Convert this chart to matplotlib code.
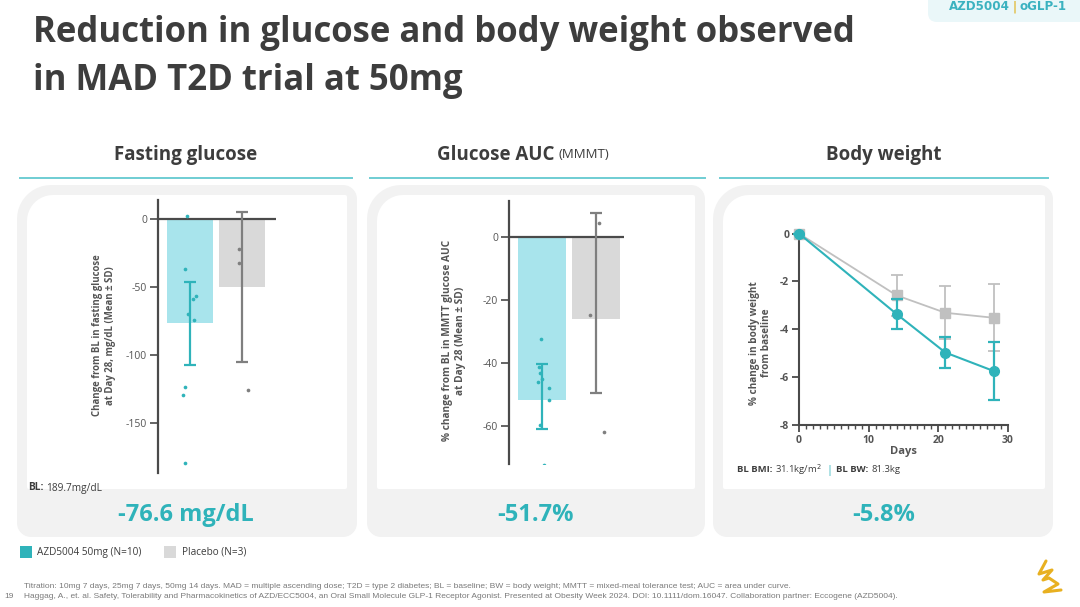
import numpy as np
import matplotlib
matplotlib.use("Agg")
import matplotlib.pyplot as plt
from matplotlib.patches import FancyBboxPatch, Rectangle, Polygon

plt.rcParams['font.family'] = ['Open Sans', 'DejaVu Sans']
plt.rcParams['axes.unicode_minus'] = False

TEAL = "#2fb3ba"
TEAL_BAR = "#a8e4ec"
GRAY_BAR = "#d9d9d9"
GRAY_PT = "#7f7f7f"
GRAY_LINE = "#c0c0c0"
DARK = "#3d3d3d"
AXC = "#4a4a4a"

# fasting glucose (change from BL, mg/dL)
fg_means = [-76.6, -50.0]
fg_lower = [-106.9, -105.0]
fg_upper = [-46.3, 5.0]
fg_azd_pts = [2.2, -36.8, -58.6, -56.4, -69.6, -74.0, -123.5, -129.4, -179.2]
fg_azd_off = [-0.06, -0.09, 0.05, 0.12, -0.03, 0.08, -0.09, -0.14, -0.10]
fg_pbo_pts = [-22.3, -32.1, -125.7]
fg_pbo_off = [-0.06, -0.05, 0.11]

# glucose AUC (% change)
auc_means = [-51.7, -26.0]
auc_lower = [-61.0, -49.3]
auc_upper = [-40.3, 7.7]
auc_azd_pts = [-32.2, -41.2, -43.2, -44.9, -45.9, -47.8, -51.7, -59.5, -72.2]
auc_azd_off = [-0.01, -0.05, -0.03, 0.00, -0.06, 0.14, 0.14, -0.04, 0.05]
auc_pbo_pts = [4.4, -24.8, -61.7]
auc_pbo_off = [0.06, -0.11, 0.14]

# body weight (% change)
days = [0, 14, 21, 28]
bw_azd = [0, -3.36, -4.97, -5.75]
bw_azd_sd = [0, 0.62, 0.65, 1.2]
bw_pbo = [0, -2.58, -3.31, -3.52]
bw_pbo_sd = [0, 0.87, 1.11, 1.4]

W, H = 1080, 607
fig = plt.figure(figsize=(W / 100, H / 100), dpi=100)
renderer = fig.canvas.get_renderer()

# background canvas in pixel coords (y down)
bg = fig.add_axes([0, 0, 1, 1], zorder=-5)
bg.set_xlim(0, W)
bg.set_ylim(H, 0)
bg.axis("off")


def rrect(x0, y0, x1, y1, radii, **kw):
    # radii: top-left, top-right, bottom-right, bottom-left
    tl, tr, br, bl = radii
    pts = []
    for cx, cy, r, a0 in [(x0 + tl, y0 + tl, tl, 180), (x1 - tr, y0 + tr, tr, 270),
                          (x1 - br, y1 - br, br, 0), (x0 + bl, y1 - bl, bl, 90)]:
        t = np.radians(np.linspace(a0, a0 + 90, 12))
        pts += list(zip(cx + r * np.cos(t), cy + r * np.sin(t)))
    bg.add_patch(Polygon(pts, closed=True, **kw))


def seq_text(x, y, parts, **kw):
    # parts: list of (string, dict of extra props, gap after)
    for s, props, gap in parts:
        t = bg.text(x, y, s, va="center", ha="left", **{**kw, **props})
        x = t.get_window_extent(renderer).x1 + gap
    return x


cards = [(17, 357, 347), (367, 705, 695), (713, 1053, 1045)]
for x0, x1, xi in cards:
    rrect(x0, 185, x1, 537, (34, 14, 14, 14), fc="#f2f2f2", ec="none")
    rrect(x0 + 10, 195, xi, 489, (26, 2, 2, 2), fc="white", ec="none")
for x0, x1 in [(20, 352), (370, 705), (720, 1048)]:
    bg.plot([x0, x1], [178, 178], color="#6fcdd3", lw=1.4)

# title
bg.text(33, 33, "Reduction in glucose and body weight observed", fontsize=25,
        fontweight="bold", color=DARK, va="center", ha="left")
bg.text(33, 81, "in MAD T2D trial at 50mg", fontsize=25,
        fontweight="bold", color=DARK, va="center", ha="left")

# top right badge
bg.add_patch(FancyBboxPatch((928, -10), 160, 32, boxstyle="round,pad=0,rounding_size=9",
                            fc="#eaf7f9", ec="none"))
seq_text(949, 7, [("AZD5004", dict(fontweight="bold"), 3),
                  ("|", dict(color="#e0a800", fontweight="normal"), 3),
                  ("oGLP-1", dict(fontweight="bold"), 0)],
         fontsize=8.6, color="#3bb2c0", family="DejaVu Sans")

# panel headers
bg.text(186, 155, "Fasting glucose", fontsize=13.5, fontweight="bold", color=DARK, ha="center", va="center")
seq_text(437, 155, [("Glucose AUC", dict(fontsize=13.5, fontweight="bold"), 4),
                    ("(MMMT)", dict(fontsize=9.5), 0)], color=DARK)
bg.text(884, 155, "Body weight", fontsize=13.5, fontweight="bold", color=DARK, ha="center", va="center")

# big values
for x, s in [(186, "-76.6 mg/dL"), (536, "-51.7%"), (884, "-5.8%")]:
    bg.text(x, 515, s, fontsize=17, fontweight="bold", color=TEAL, ha="center", va="center")

# baseline notes
seq_text(28, 488, [("BL:", dict(fontweight="bold"), 3), ("189.7mg/dL", {}, 0)],
         fontsize=7.3, color=DARK)
seq_text(737, 470, [("BL BMI:", dict(fontweight="bold"), 3), ("31.1kg/m$^2$", {}, 4),
                    ("|", dict(color=TEAL, fontsize=8), 4), ("BL BW:", dict(fontweight="bold"), 3),
                    ("81.3kg", {}, 0)], fontsize=6.8, color=DARK)

# legend
bg.add_patch(Rectangle((20, 546), 12, 12, fc=TEAL, ec="none"))
bg.text(37, 552, "AZD5004 50mg (N=10)", fontsize=7.2, color=DARK, va="center")
bg.add_patch(Rectangle((164, 546), 12, 12, fc=GRAY_BAR, ec="none"))
bg.text(182, 552, "Placebo (N=3)", fontsize=7.2, color=DARK, va="center")

# footnotes
fn = dict(fontsize=6.0, color="#7a7a7a", va="center", family="Liberation Sans")
bg.text(24, 586, "Titration: 10mg 7 days, 25mg 7 days, 50mg 14 days. MAD = multiple ascending dose; "
        "T2D = type 2 diabetes; BL = baseline; BW = body weight; MMTT = mixed-meal tolerance test; "
        "AUC = area under curve.", **fn)
bg.text(24, 597, "Haggag, A., et. al. Safety, Tolerability and Pharmacokinetics of AZD/ECC5004, an Oral "
        "Small Molecule GLP-1 Receptor Agonist. Presented at Obesity Week 2024. DOI: 10.1111/dom.16047. "
        "Collaboration partner: Eccogene (AZD5004).", **fn)
bg.text(4, 597, "19", **fn)

# simple gold logo mark
bg.plot([1046, 1039, 1052, 1043, 1049, 1058, 1044, 1061], [561, 574, 570, 580, 578, 584, 592, 590],
        color="#e8b020", lw=2.2, solid_capstyle="round", solid_joinstyle="round")


def px_axes(x0, x1, y0, y1):
    return fig.add_axes([x0 / W, 1 - y1 / H, (x1 - x0) / W, (y1 - y0) / H])


def bar_panel(ax, means, lower, upper, azd_pts, azd_off, pbo_pts, pbo_off, yticks, xlim, ylim):
    xs = [0, 1]
    ax.bar(xs, means, width=0.88, color=[TEAL_BAR, GRAY_BAR], zorder=1)
    for i, c in zip(xs, [TEAL, GRAY_PT]):
        ax.errorbar(i, means[i], yerr=[[means[i] - lower[i]], [upper[i] - means[i]]],
                    color=c, lw=1.6, capsize=4.2, capthick=1.6, zorder=3)
    ax.scatter([0 + o for o in azd_off], azd_pts, s=7, color=TEAL, zorder=4, lw=0)
    ax.scatter([1 + o for o in pbo_off], pbo_pts, s=7, color=GRAY_PT, zorder=4, lw=0)
    ax.axhline(0, color=AXC, lw=1.6, zorder=2)
    ax.set_xlim(*xlim)
    ax.set_ylim(*ylim)
    ax.patch.set_alpha(0)
    for s in ["top", "right", "bottom"]:
        ax.spines[s].set_visible(False)
    ax.spines["left"].set_color(AXC)
    ax.spines["left"].set_linewidth(1.6)
    ax.set_xticks([])
    ax.set_yticks(yticks)
    ax.tick_params(axis="y", length=6, width=1.2, color=AXC, labelsize=7.5, labelcolor="#555555", pad=2)


ax1 = px_axes(158, 276, 200, 473)
bar_panel(ax1, fg_means, fg_lower, fg_upper, fg_azd_pts, fg_azd_off, fg_pbo_pts, fg_pbo_off,
          [0, -50, -100, -150], (-0.615, 1.654), (-186.5, 14))
ax1.set_ylabel("Change from BL in fasting glucose\nat Day 28, mg/dL (Mean ± SD)", fontsize=6.9,
               fontweight="bold", color="#555555", linespacing=1.25)
ax1.yaxis.set_label_coords(-0.36, 0.505)

ax2 = px_axes(509, 624, 201, 464)
bar_panel(ax2, auc_means, auc_lower, auc_upper, auc_azd_pts, auc_azd_off, auc_pbo_pts, auc_pbo_off,
          [0, -20, -40, -60], (-0.602, 1.516), (-72, 11.5))
ax2.set_ylabel("% change from BL in MMTT glucose AUC\nat Day 28 (Mean ± SD)", fontsize=7.3,
               fontweight="bold", color="#555555", linespacing=1.25)
ax2.yaxis.set_label_coords(-0.37, 0.47)

ax3 = px_axes(799, 1008, 230, 425)
ax3.patch.set_alpha(0)
ax3.errorbar(days, bw_pbo, yerr=bw_pbo_sd, color=GRAY_LINE, lw=1.3, marker="s", ms=6.5,
             capsize=4, capthick=1.3, elinewidth=1.3, clip_on=False, zorder=3)
ax3.errorbar(days, bw_azd, yerr=bw_azd_sd, color=TEAL, lw=1.5, marker="o", ms=7,
             capsize=4, capthick=1.6, elinewidth=1.6, clip_on=False, zorder=4)
ax3.set_xlim(0, 30)
ax3.set_ylim(-8, 0.15)
for s in ["top", "right"]:
    ax3.spines[s].set_visible(False)
for s in ["left", "bottom"]:
    ax3.spines[s].set_color(AXC)
    ax3.spines[s].set_linewidth(1.5)
ax3.set_xticks([0, 10, 20, 30])
ax3.set_xticks(range(0, 31), minor=True)
ax3.set_yticks([0, -2, -4, -6, -8])
ax3.tick_params(axis="both", which="major", length=5, width=1.3, color=AXC, labelsize=7.5,
                labelcolor="#555555", pad=2)
ax3.tick_params(axis="x", which="minor", length=3, width=1, color=AXC)
for lab in ax3.get_xticklabels() + ax3.get_yticklabels():
    lab.set_fontweight("bold")
ax3.set_xlabel("Days", fontsize=8, fontweight="bold", color="#555555", labelpad=0)
ax3.set_ylabel("% change in body weight\nfrom baseline", fontsize=7.2, fontweight="bold",
               color="#555555", linespacing=1.2)
ax3.yaxis.set_label_coords(-0.128, 0.42)

fig.savefig("out.png", dpi=100, facecolor="white")
